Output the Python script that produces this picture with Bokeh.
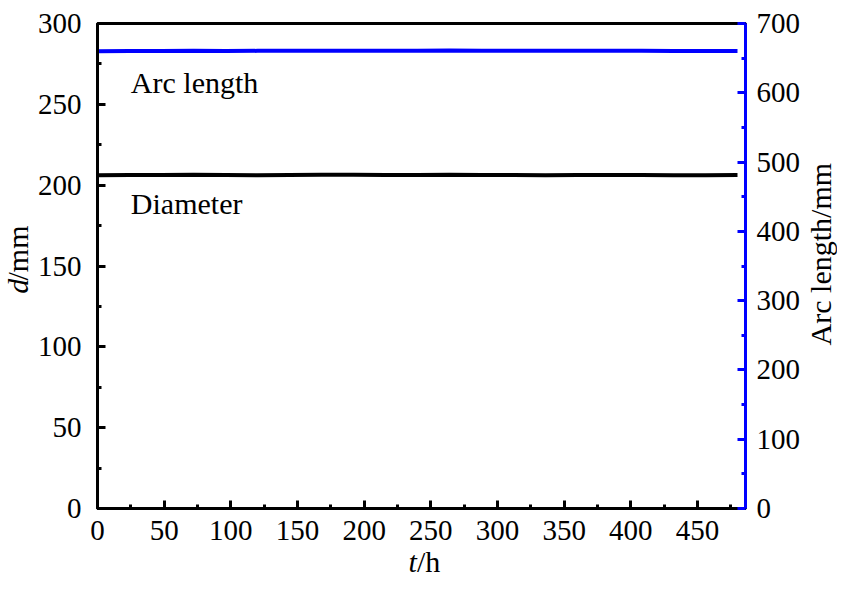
import math
from bokeh.plotting import figure
from bokeh.models import Range1d, LinearAxis, Label, FixedTicker
from bokeh.layouts import row, column
from bokeh.core.properties import value
from bokeh.embed import file_html
from bokeh.resources import INLINE

# Data
t_h = [0, 24, 48, 72, 96, 120, 144, 168, 192, 216, 240, 264, 288, 312, 336, 360, 384, 408, 432, 456, 480]
diameter_mm = [206.2, 206.3, 206.3, 206.4, 206.3, 206.2, 206.3, 206.4, 206.4, 206.3, 206.3, 206.4, 206.3, 206.3, 206.2, 206.3, 206.3, 206.3, 206.2, 206.2, 206.3]
arc_length_mm = [660.0, 660.2, 660.3, 660.5, 660.4, 660.5, 660.6, 660.6, 660.8, 660.7, 660.8, 660.9, 660.8, 660.7, 660.7, 660.6, 660.5, 660.5, 660.4, 660.4, 660.3]

x_ticks = [0, 50, 100, 150, 200, 250, 300, 350, 400, 450]
left_ticks = [0, 50, 100, 150, 200, 250, 300]
right_ticks = [0, 100, 200, 300, 400, 500, 600, 700]

FONT = "Liberation Serif"
FS = "29px"
LFS = "30px"
BLUE = "#0000FF"

W, H = 837, 578
LW, RW = 34, 34
OVER, BH = 10, 35
MW, MH = W - LW - RW, H - BH + OVER

# ---------- main plot ----------
p = figure(width=MW, height=MH, output_backend="svg", toolbar_location=None,
           x_range=Range1d(0, 486), y_range=Range1d(0, 300),
           min_border_left=96 - LW, min_border_right=MW - (745 - LW), min_border_top=23,
           min_border_bottom=MH - 508)
p.extra_y_ranges = {"arc": Range1d(0, 700)}

p.xgrid.visible = False
p.ygrid.visible = False
p.outline_line_color = "black"
p.outline_line_width = 3
p.background_fill_color = "white"
p.border_fill_color = "white"

p.line(t_h, diameter_mm, line_color="black", line_width=4)
p.line(t_h, arc_length_mm, line_color=BLUE, line_width=4, y_range_name="arc")

right = LinearAxis(y_range_name="arc")
p.add_layout(right, "right")

def minors(ticks, extra=False):
    m = [(a + b) / 2 for a, b in zip(ticks[:-1], ticks[1:])]
    if extra:
        m.append(ticks[-1] + (ticks[1] - ticks[0]) / 2)
    return m

for ax, ticks, color, extra, standoff in [(p.xaxis[0], x_ticks, "black", True, 12),
                                          (p.yaxis[0], left_ticks, "black", False, 16),
                                          (right, right_ticks, BLUE, False, 11)]:
    ax.ticker = FixedTicker(ticks=ticks, minor_ticks=minors(ticks, extra))
    ax.axis_line_color = color
    ax.axis_line_width = 3
    ax.major_tick_line_color = color
    ax.minor_tick_line_color = color
    ax.major_tick_line_width = 3
    ax.minor_tick_line_width = 3
    ax.major_tick_in = 8
    ax.major_tick_out = 0
    ax.minor_tick_in = 4
    ax.minor_tick_out = 0
    ax.major_label_text_font = FONT
    ax.major_label_text_font_size = FS
    ax.major_label_text_color = "black"
    ax.major_label_standoff = standoff

p.add_layout(Label(x=25, y=263.5, text="Arc length", text_font=FONT, text_font_size=LFS,
                   text_baseline="middle", text_color="black"))
p.add_layout(Label(x=25, y=188.5, text="Diameter", text_font=FONT, text_font_size=LFS,
                   text_baseline="middle", text_color="black"))

# ---------- strips holding the axis titles ----------
def strip(w, h, fill="white"):
    s = figure(width=w, height=h, output_backend="svg", toolbar_location=None, title=None,
               x_range=Range1d(0, w), y_range=Range1d(0, h), min_border=0,
               x_axis_type=None, y_axis_type=None)
    s.outline_line_color = None
    s.background_fill_color = fill
    s.border_fill_color = fill
    return s

def txt(s, x, y, t, angle=0.0, italic=False, align="left"):
    s.text(x=[x], y=[y], text=[t], angle=angle, text_font=value(FONT), text_font_size=value(LFS),
           text_font_style="italic" if italic else "normal", text_align=align,
           text_baseline="middle", text_color="black")

left_strip = strip(LW, MH)
txt(left_strip, 17, MH - 308, "d", angle=math.pi / 2, italic=True)
txt(left_strip, 17, MH - 308 + 15, "/mm", angle=math.pi / 2)

right_strip = strip(RW, MH)
txt(right_strip, 17, MH - 263, "Arc length/mm", angle=math.pi / 2, align="center")

bottom_strip = strip(W, BH, fill=None)
bottom_strip.styles = {"margin-top": f"-{OVER}px"}
txt(bottom_strip, 408, 17.5, "t", italic=True)
txt(bottom_strip, 416.5, 17.5, "/h")

layout = column(row(left_strip, p, right_strip), bottom_strip)

open("out.html", "w").write(file_html(layout, INLINE))
